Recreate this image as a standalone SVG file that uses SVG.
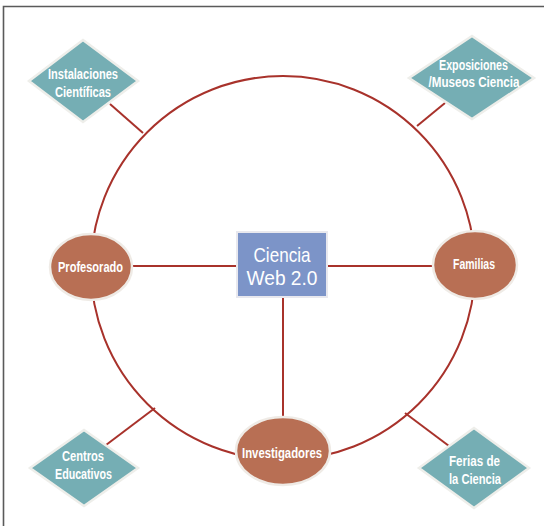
<svg xmlns="http://www.w3.org/2000/svg" width="544" height="526" viewBox="0 0 544 526">
<style>
.frame{fill:none;stroke:#5a5a5a;stroke-width:1.6}
.con{fill:none;stroke:#a8322b;stroke-width:2}
.dia{fill:#75aeb4;stroke:#eeeeea;stroke-width:2.5}
.ell{fill:#b86f54;stroke:#efebe6;stroke-width:2.5}
.box{fill:#7c94c8;stroke:#e8e8ee;stroke-width:2}
.t{font-family:"Liberation Sans",Arial,sans-serif;fill:#ffffff;text-anchor:middle}
.ts{font-size:14px;font-weight:bold}
.tm{font-size:15px;font-weight:bold}
.tl{font-size:21px}
</style>
<rect width="544" height="526" fill="#ffffff"/>
<path class="frame" d="M3.5,526 V6.5 H544"/>
<g id="connectors">
<circle class="con" cx="283" cy="268" r="192"/>
<line class="con" x1="237" y1="266" x2="131" y2="266"/>
<line class="con" x1="327" y1="266" x2="434" y2="266"/>
<line class="con" x1="283" y1="297" x2="283" y2="418"/>
<line class="con" x1="110" y1="104" x2="143" y2="133"/>
<line class="con" x1="445" y1="103" x2="417" y2="126"/>
<line class="con" x1="106" y1="445" x2="155" y2="408"/>
<line class="con" x1="405" y1="413" x2="449" y2="446"/>
</g>
<g id="ciencia-web">
<rect class="box" x="237" y="232" width="90" height="65"/>
<text class="t tl" x="282" y="262" textLength="57" lengthAdjust="spacingAndGlyphs">Ciencia</text>
<text class="t tl" x="282" y="285" textLength="71" lengthAdjust="spacingAndGlyphs">Web 2.0</text>
</g>
<g id="profesorado">
<ellipse class="ell" cx="91" cy="267" rx="41" ry="33"/>
<text class="t tm" x="90.5" y="272" textLength="65" lengthAdjust="spacingAndGlyphs">Profesorado</text>
</g>
<g id="familias">
<ellipse class="ell" cx="475" cy="265" rx="42" ry="34"/>
<text class="t tm" x="474" y="269" textLength="42" lengthAdjust="spacingAndGlyphs">Familias</text>
</g>
<g id="investigadores">
<ellipse class="ell" cx="283" cy="451" rx="47" ry="34"/>
<text class="t tm" x="282" y="458" textLength="80" lengthAdjust="spacingAndGlyphs">Investigadores</text>
</g>
<g id="instalaciones">
<polygon class="dia" points="83,40 138,81 83,122 29,81"/>
<text class="t ts" x="83" y="79" textLength="70" lengthAdjust="spacingAndGlyphs">Instalaciones</text>
<text class="t ts" x="83" y="97" textLength="56" lengthAdjust="spacingAndGlyphs">Científicas</text>
</g>
<g id="exposiciones">
<polygon class="dia" points="472,36 534,78 472,119 409,78"/>
<text class="t ts" x="473.5" y="70" textLength="69" lengthAdjust="spacingAndGlyphs">Exposiciones</text>
<text class="t ts" x="474" y="87" textLength="91" lengthAdjust="spacingAndGlyphs">/Museos Ciencia</text>
</g>
<g id="centros">
<polygon class="dia" points="84,430 138,468 84,506 30,468"/>
<text class="t ts" x="83" y="461" textLength="42" lengthAdjust="spacingAndGlyphs">Centros</text>
<text class="t ts" x="83.5" y="479" textLength="57" lengthAdjust="spacingAndGlyphs">Educativos</text>
</g>
<g id="ferias">
<polygon class="dia" points="474,428 529,468 474,508 419,468"/>
<text class="t ts" x="474.5" y="466" textLength="51" lengthAdjust="spacingAndGlyphs">Ferias de</text>
<text class="t ts" x="475" y="484" textLength="52" lengthAdjust="spacingAndGlyphs">la Ciencia</text>
</g>
</svg>
